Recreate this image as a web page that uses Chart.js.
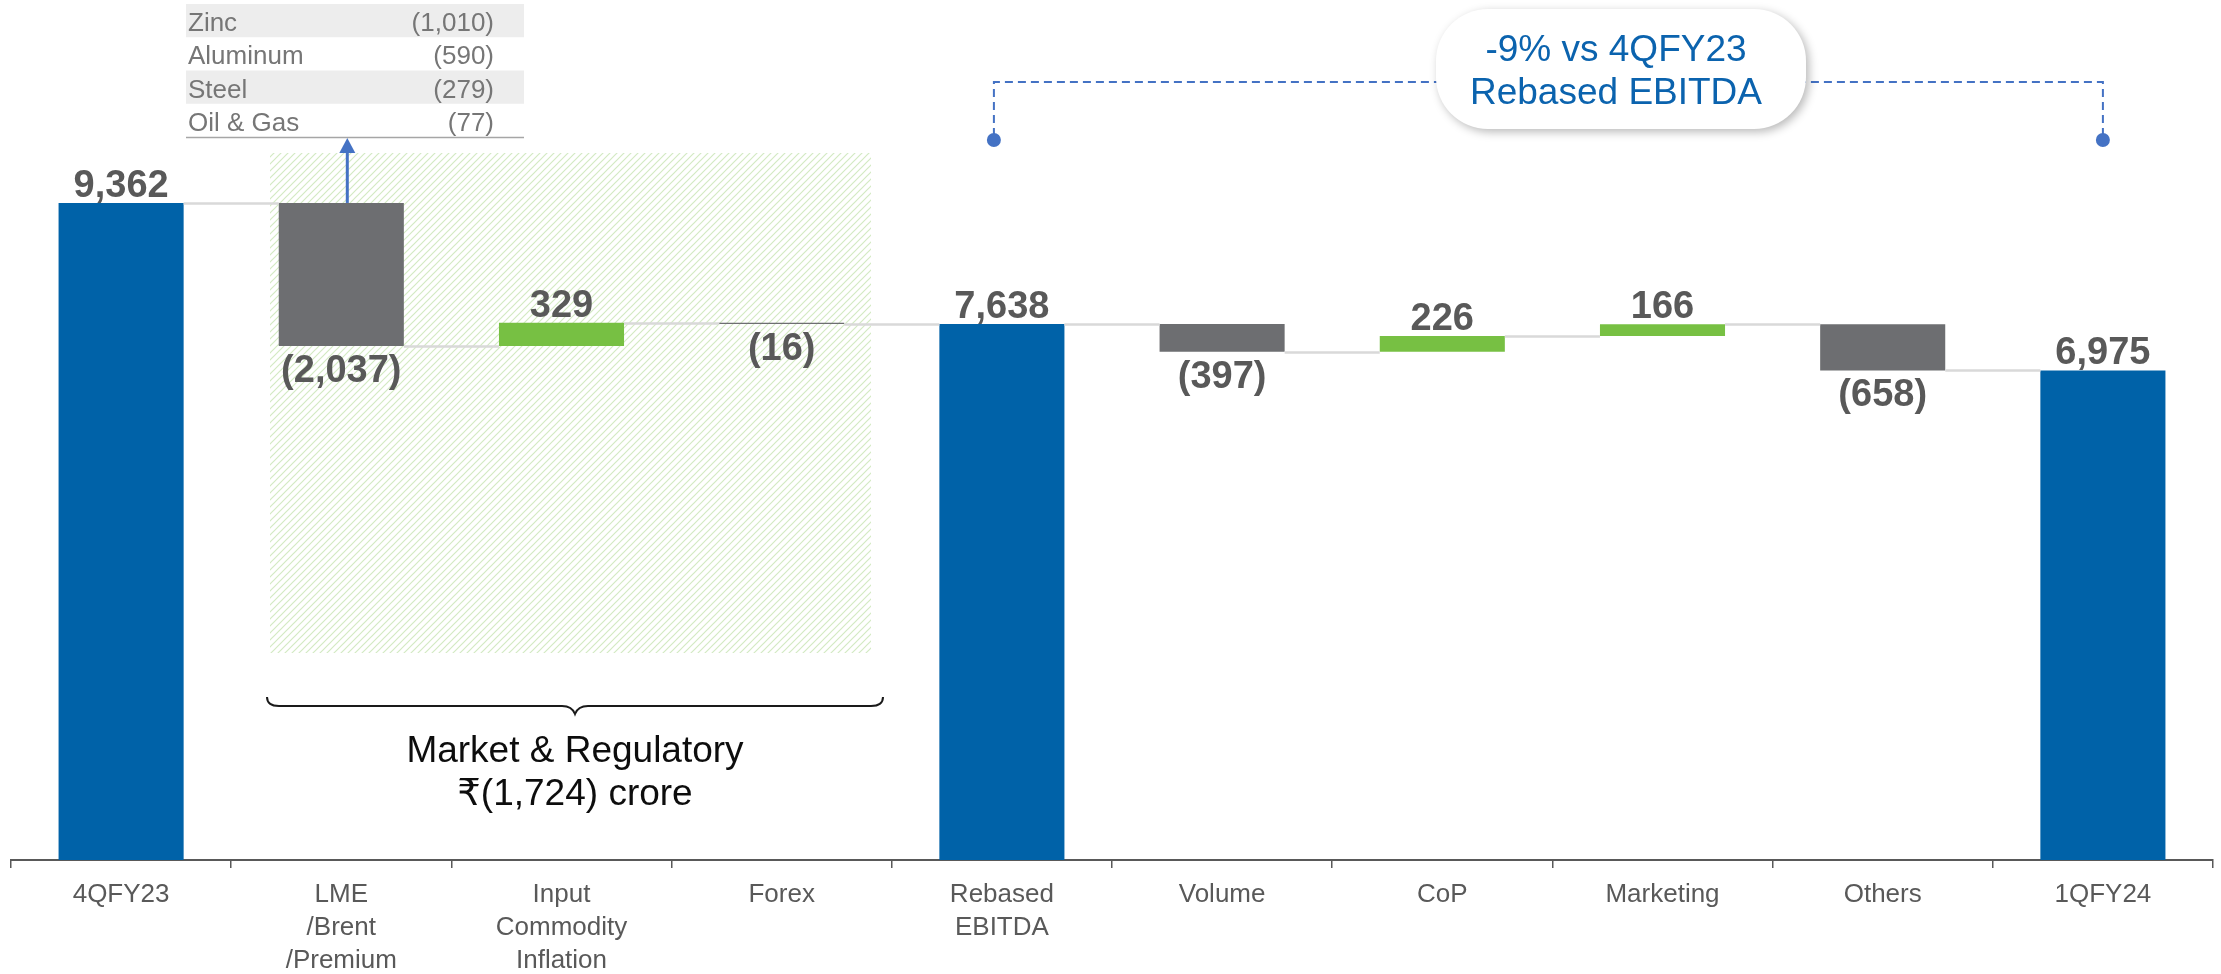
<!DOCTYPE html>
<html>
<head>
<meta charset="utf-8">
<title>EBITDA bridge 4QFY23 to 1QFY24</title>
<script src="https://cdn.jsdelivr.net/npm/chart.js@4"></script>
<style>
  html, body { margin: 0; padding: 0; background: #fff; }
  canvas { display: block; }
</style>
</head>
<body>
<canvas id="bridge" width="2221" height="974"></canvas>
<script>
// ── Data ──────────────────────────────────────────────────────────────────────
var categories = ['4QFY23', ['LME', '/Brent', '/Premium'], ['Input', 'Commodity', 'Inflation'], 'Forex',
                  ['Rebased', 'EBITDA'], 'Volume', 'CoP', 'Marketing', 'Others', '1QFY24'];
var values     = [9362, -2037, 329, -16, 7638, -397, 226, 166, -658, 6975];
var isTotal    = [true, false, false, false, true, false, false, false, false, true];

var lmeNames  = ['Zinc', 'Aluminum', 'Steel', 'Oil & Gas'];
var lmeValues = [-1010, -590, -279, -77];

var calloutLines = ['-9% vs 4QFY23', 'Rebased EBITDA'];
var bracketLines = ['Market & Regulatory', '\u20B9(1,724) crore'];

var FONT  = '"Liberation Sans", Arial, "DejaVu Sans", sans-serif';
var BLUE  = '#0062A8';
var GREY  = '#6D6E71';
var GREEN = '#77C043';

// ── Build floating ranges ─────────────────────────────────────────────────────
var ranges = [];
var levels = [];
var colors = [];
var running = 0;
for (var i = 0; i < values.length; i++) {
  if (isTotal[i]) {
    ranges.push([0, values[i]]);
    running = values[i];
    colors.push(BLUE);
  } else {
    var start = running;
    running += values[i];
    ranges.push([Math.min(start, running), Math.max(start, running)]);
    colors.push(values[i] < 0 ? GREY : GREEN);
  }
  levels.push(running);
}

function fmt(v) {
  var s = Math.abs(v).toLocaleString('en-US');
  return v < 0 ? '(' + s + ')' : s;
}

// ── Helpers ───────────────────────────────────────────────────────────────────
function roundRect(ctx, x, y, w, h, r) {
  ctx.beginPath();
  ctx.moveTo(x + r, y);
  ctx.arcTo(x + w, y, x + w, y + h, r);
  ctx.arcTo(x + w, y + h, x, y + h, r);
  ctx.arcTo(x, y + h, x, y, r);
  ctx.arcTo(x, y, x + w, y, r);
  ctx.closePath();
}

function hatchPattern(ctx) {
  var p = document.createElement('canvas');
  p.width = 7; p.height = 7;
  var c = p.getContext('2d');
  c.strokeStyle = '#D3EAC3';
  c.lineWidth = 1.2;
  c.beginPath();
  c.moveTo(0, 7); c.lineTo(7, 0);
  c.moveTo(-1, 1); c.lineTo(1, -1);
  c.moveTo(6, 8); c.lineTo(8, 6);
  c.stroke();
  return ctx.createPattern(p, 'repeat');
}

// ── Annotations plugin ────────────────────────────────────────────────────────
var annotations = {
  id: 'annotations',
  beforeDatasetsDraw: function (chart) {
    var ctx = chart.ctx;
    ctx.save();
    ctx.fillStyle = hatchPattern(ctx);
    ctx.fillRect(270, 153, 601, 500);
    ctx.restore();
  },
  afterDatasetsDraw: function (chart) {
    var ctx  = chart.ctx;
    var y    = chart.scales.y;
    var bars = chart.getDatasetMeta(0).data;

    ctx.save();

    // connectors
    ctx.strokeStyle = '#D9D9D9';
    ctx.lineWidth = 2.5;
    for (var i = 0; i < bars.length - 1; i++) {
      var ly = Math.round(y.getPixelForValue(levels[i])) + 0.5;
      ctx.beginPath();
      ctx.moveTo(bars[i].x + bars[i].width / 2, ly);
      ctx.lineTo(bars[i + 1].x - bars[i + 1].width / 2, ly);
      ctx.stroke();
    }

    // value labels
    ctx.fillStyle = '#595959';
    ctx.font = 'bold 38px ' + FONT;
    ctx.textAlign = 'center';
    ctx.textBaseline = 'alphabetic';
    for (var j = 0; j < bars.length; j++) {
      var top = Math.min(bars[j].y, bars[j].base);
      var bot = Math.max(bars[j].y, bars[j].base);
      if (values[j] < 0) ctx.fillText(fmt(values[j]), bars[j].x, bot + 36);
      else ctx.fillText(fmt(values[j]), bars[j].x, top - 6);
    }

    // LME breakdown table
    ctx.font = '26px ' + FONT;
    for (var k = 0; k < lmeNames.length; k++) {
      var rowTop = 4 + k * 33.25;
      if (k % 2 === 0) {
        ctx.fillStyle = '#EDEDED';
        ctx.fillRect(186, rowTop, 338, 33.25);
      }
      ctx.fillStyle = '#767676';
      ctx.textAlign = 'left';
      ctx.fillText(lmeNames[k], 188, rowTop + 27);
      ctx.textAlign = 'right';
      ctx.fillText(fmt(lmeValues[k]), 494, rowTop + 27);
    }
    ctx.strokeStyle = '#A6A6A6';
    ctx.lineWidth = 1.5;
    ctx.beginPath();
    ctx.moveTo(186, 137.5); ctx.lineTo(524, 137.5);
    ctx.stroke();

    // arrow from LME bar up to table
    var ax = bars[1].x + 6;
    var ay = Math.min(bars[1].y, bars[1].base);
    ctx.strokeStyle = '#4472C4';
    ctx.fillStyle = '#4472C4';
    ctx.lineWidth = 3;
    ctx.beginPath();
    ctx.moveTo(ax, ay); ctx.lineTo(ax, 150);
    ctx.stroke();
    ctx.beginPath();
    ctx.moveTo(ax, 138); ctx.lineTo(ax - 8, 153); ctx.lineTo(ax + 8, 153);
    ctx.closePath();
    ctx.fill();

    // dashed bracket between Rebased EBITDA and 1QFY24
    var lx = bars[4].x - 8;
    var rx = bars[9].x;
    ctx.setLineDash([8, 5]);
    ctx.lineWidth = 2;
    ctx.beginPath();
    ctx.moveTo(lx, 136); ctx.lineTo(lx, 82); ctx.lineTo(rx, 82); ctx.lineTo(rx, 136);
    ctx.stroke();
    ctx.setLineDash([]);
    ctx.beginPath(); ctx.arc(lx, 140, 7, 0, Math.PI * 2); ctx.fill();
    ctx.beginPath(); ctx.arc(rx, 140, 7, 0, Math.PI * 2); ctx.fill();

    // callout bubble
    ctx.save();
    ctx.shadowColor = 'rgba(0,0,0,0.28)';
    ctx.shadowBlur = 10;
    ctx.shadowOffsetX = 3;
    ctx.shadowOffsetY = 3;
    ctx.fillStyle = '#FFFFFF';
    roundRect(ctx, 1436, 9, 370, 120, 52);
    ctx.fill();
    ctx.restore();
    ctx.fillStyle = '#0B63AE';
    ctx.font = '37px ' + FONT;
    ctx.textAlign = 'center';
    ctx.fillText(calloutLines[0], 1616, 61);
    ctx.fillText(calloutLines[1], 1616, 104);

    // curly brace under market & regulatory items
    ctx.strokeStyle = '#1A1A1A';
    ctx.lineWidth = 2;
    ctx.beginPath();
    ctx.moveTo(267, 697);
    ctx.quadraticCurveTo(267, 706, 279, 706);
    ctx.lineTo(562, 706);
    ctx.quadraticCurveTo(572, 706, 575, 714);
    ctx.quadraticCurveTo(578, 706, 588, 706);
    ctx.lineTo(871, 706);
    ctx.quadraticCurveTo(883, 706, 883, 697);
    ctx.stroke();

    ctx.fillStyle = '#0D0D0D';
    ctx.font = '37px ' + FONT;
    ctx.fillText(bracketLines[0], 575, 762);
    ctx.fillText(bracketLines[1], 575, 805);

    ctx.restore();
  }
};

// ── Chart ─────────────────────────────────────────────────────────────────────
var ctx = document.getElementById('bridge').getContext('2d');
var bridgeChart = new Chart(ctx, {
  type: 'bar',
  data: {
    labels: categories,
    datasets: [{
      data: ranges,
      backgroundColor: colors,
      borderWidth: 0,
      barPercentage: 0.568,
      categoryPercentage: 1
    }]
  },
  options: {
    responsive: false,
    animation: false,
    devicePixelRatio: 1,
    layout: { padding: { left: 11, right: 8, top: 0, bottom: 0 } },
    plugins: { legend: { display: false }, tooltip: { enabled: false }, title: { display: false } },
    scales: {
      x: {
        grid: { display: true, drawOnChartArea: false, drawTicks: true, tickLength: 8, color: '#595959', lineWidth: 1.5 },
        border: { display: true, color: '#595959', width: 2 },
        ticks: {
          color: '#595959',
          font: { family: FONT, size: 26, lineHeight: 1.27 },
          padding: 10,
          maxRotation: 0,
          autoSkip: false
        },
        afterFit: function (scale) { scale.height = 114; }
      },
      y: { display: false, min: 0, max: 12254 }
    }
  },
  plugins: [annotations]
});
</script>
</body>
</html>
